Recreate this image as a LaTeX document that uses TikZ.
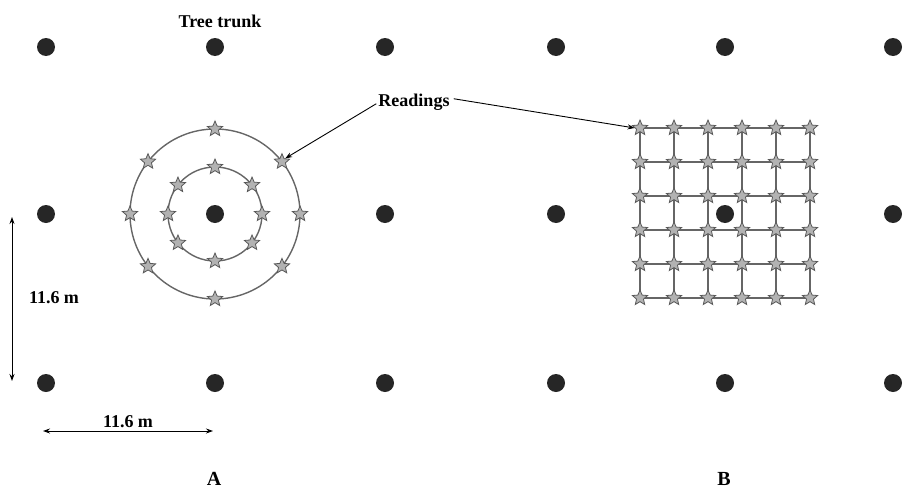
\documentclass[tikz,border=0pt]{standalone}
\usepackage{fontspec}
\setmainfont{Liberation Serif}
\usetikzlibrary{shapes.geometric,arrows.meta,calc}
\begin{document}
\begin{tikzpicture}[x=1pt,y=-1pt,
  trunk/.style={circle,fill=black!85,inner sep=0pt,minimum size=18pt},
  reading/.style={star,star points=5,star point ratio=2.2,fill=black!30,draw=black!65,line width=0.8pt,inner sep=0pt,minimum size=16pt},
  ring/.style={draw=black!60,line width=1.4pt},
  gridline/.style={draw=black!60,line width=1.4pt},
  lbl/.style={font=\fontsize{18}{20}\selectfont\bfseries,inner sep=0pt,anchor=base},
  big/.style={font=\fontsize{20}{22}\selectfont\bfseries,inner sep=0pt,anchor=base},
  arr/.style={line width=0.9pt,-{Stealth[length=7pt,width=5pt]}},
  darr/.style={line width=0.9pt,{Stealth[length=7pt,width=5pt]}-{Stealth[length=7pt,width=5pt]}}]
\useasboundingbox (0,0) rectangle (905,490);
% trunk grid
\foreach \c/\x in {1/46,2/215,3/385,4/556,5/725,6/893}{
  \foreach \r/\y in {1/47,3/383}{
    \node[trunk] (t\c\r) at (\x,\y) {};
  }
}
\foreach \c/\x in {1/46,3/385,4/556,6/893}{
  \node[trunk] (t\c2) at (\x,214) {};
}
% A: concentric circles
\coordinate (ca) at (215,214);
\draw[ring] (ca) circle[radius=85];
\draw[ring] (ca) circle[radius=47];
\node[trunk] (t22) at (ca) {};
\foreach \a [count=\i] in {90,38,0,-38,-90,-142,180,142}{
  \node[reading] (o\i) at ($(ca)+(\a:85 and -85)$) {};
}
\foreach \a [count=\i] in {90,38,0,-38,-90,-142,180,142}{
  \node[reading] (n\i) at ($(ca)+(\a:47 and -47)$) {};
}
% B: grid
\foreach \i in {0,...,5}{
  \draw[gridline] (640+34*\i,128) -- (640+34*\i,298);
  \draw[gridline] (640,128+34*\i) -- (810,128+34*\i);
}
\foreach \i in {0,...,5}{
  \foreach \j in {0,...,5}{
    \node[reading] (g\i\j) at (640+34*\i,128+34*\j) {};
  }
}
\node[trunk] (t52) at (725,214) {};
% labels
\node[lbl] (tt) at (220,27) {Tree trunk};
\node[lbl] (rd) at (414,106) {Readings};
\draw[arr] (rd.west) ++(-2,2) coordinate (rdw) -- (o2.north east);
\draw[arr] (rd.east) ++(4,-3) coordinate (rde) -- (g00.west);
% dimensions
\coordinate (v1) at (12,217);
\coordinate (v2) at (12,381);
\draw[darr] (v1) -- (v2);
\node[lbl] (vl) at (54,303) {11.6 m};
\coordinate (h1) at (43,431);
\coordinate (h2) at (213,431);
\draw[darr] (h1) -- (h2);
\node[lbl] (hl) at (128,427) {11.6 m};
\node[big] (la) at (214,485) {A};
\node[big] (lb) at (724,485) {B};
\end{tikzpicture}
\end{document}
